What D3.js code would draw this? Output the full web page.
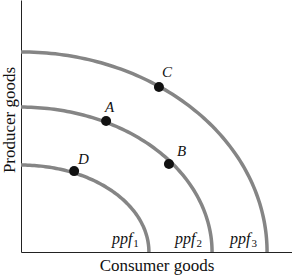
<!DOCTYPE html>
<html>
<head>
<meta charset="utf-8">
<script src="https://cdn.jsdelivr.net/npm/d3@7"></script>
<style>
  body { margin: 0; background: #fff; }
  text { font-family: "Liberation Serif", "DejaVu Serif", serif; }
</style>
</head>
<body>
<script>
// curves: quarter ellipses, intercepts in chart units (0-100)
var curveNames = ["ppf1", "ppf2", "ppf3"];
var xIntercepts = [47.2, 70.5, 90.8];
var yIntercepts = [34.5, 57.5, 79.4];

// labelled points
var pointNames = ["D", "A", "B", "C"];
var pointX = [19.6, 31.4, 54.6, 50.9];
var pointY = [32.1, 52.0, 34.9, 65.5];

var xTitle = "Consumer goods";
var yTitle = "Producer goods";

var W = 292, H = 276;
var margin = {top: 0, right: 0, bottom: 24, left: 21};

var svg = d3.select("body").append("svg")
    .attr("width", W)
    .attr("height", H);

var x = d3.scaleLinear().domain([0, 100]).range([margin.left, W - margin.right]);
var y = d3.scaleLinear().domain([0, 100]).range([H - margin.bottom, margin.top]);

// axes (plain lines, no ticks)
svg.append("g")
    .attr("transform", "translate(0," + y(0) + ")")
    .call(d3.axisBottom(x).tickValues([]).tickSizeOuter(0))
    .select(".domain").attr("stroke", "#222");
svg.append("g")
    .attr("transform", "translate(" + x(0) + ",0)")
    .call(d3.axisLeft(y).tickValues([]).tickSizeOuter(0))
    .select(".domain").attr("stroke", "#222");

// ppf curves
var line = d3.line().x(function(d) { return x(d[0]); }).y(function(d) { return y(d[1]); });
curveNames.forEach(function(name, i) {
  var pts = d3.range(0, 91).map(function(deg) {
    var t = deg * Math.PI / 180;
    return [xIntercepts[i] * Math.sin(t), yIntercepts[i] * Math.cos(t)];
  });
  svg.append("path")
      .attr("d", line(pts))
      .attr("fill", "none")
      .attr("stroke", "#858585")
      .attr("stroke-width", 3.5);

  var lbl = svg.append("text")
      .attr("x", x(xIntercepts[i]) - 37)
      .attr("y", y(0) - 8)
      .attr("font-size", 16)
      .attr("fill", "#111");
  lbl.append("tspan").attr("font-style", "italic").text("ppf");
  lbl.append("tspan").attr("font-size", 11).attr("dy", 3).attr("dx", 1).text(String(i + 1));
});

// points
var labelOffsets = {D: [4, -7], A: [-1, -9], B: [8, -8], C: [3, -10]};
pointNames.forEach(function(name, i) {
  svg.append("circle")
      .attr("cx", x(pointX[i]))
      .attr("cy", y(pointY[i]))
      .attr("r", 5)
      .attr("fill", "#111");
  svg.append("text")
      .attr("x", x(pointX[i]) + labelOffsets[name][0])
      .attr("y", y(pointY[i]) + labelOffsets[name][1])
      .attr("font-size", 15)
      .attr("font-style", "italic")
      .attr("fill", "#111")
      .text(name);
});

// axis titles
svg.append("text")
    .attr("x", 157)
    .attr("y", 271)
    .attr("text-anchor", "middle")
    .attr("font-size", 17)
    .attr("fill", "#111")
    .text(xTitle);
svg.append("text")
    .attr("transform", "translate(15,120) rotate(-90)")
    .attr("text-anchor", "middle")
    .attr("font-size", 17)
    .attr("fill", "#111")
    .text(yTitle);
</script>
</body>
</html>
